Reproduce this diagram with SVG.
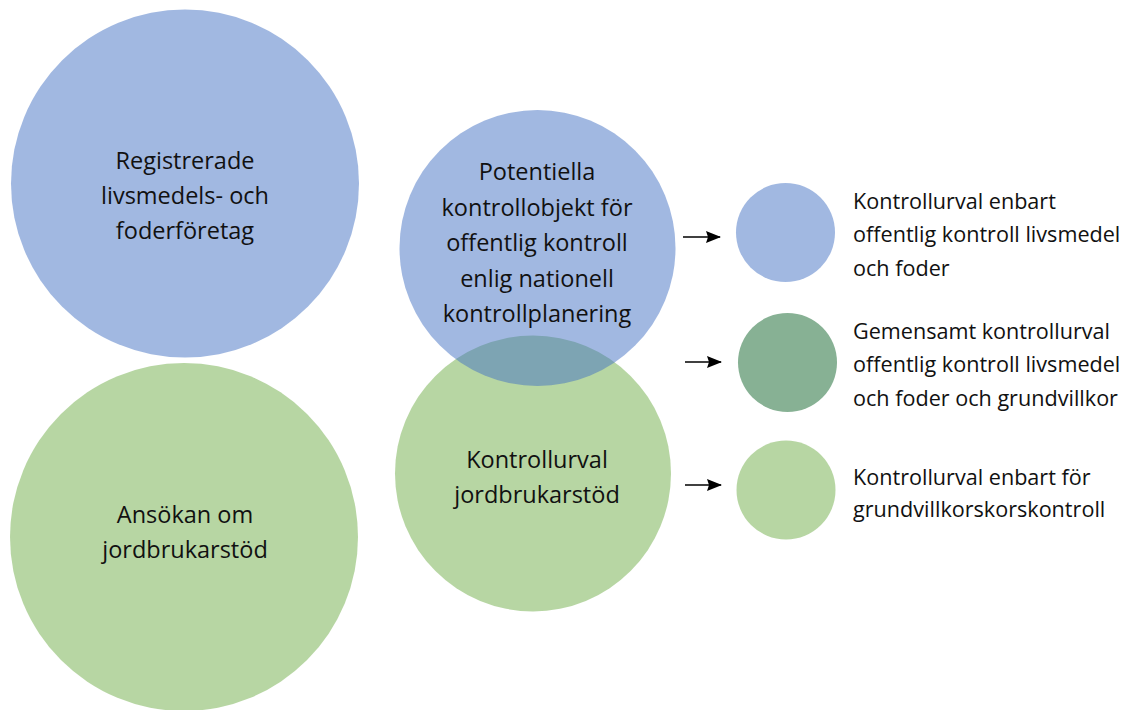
<svg xmlns="http://www.w3.org/2000/svg" width="1128" height="710" viewBox="0 0 1128 710">
  <style>
    .big { font-family: "Open Sans", "Liberation Sans", sans-serif; font-size: 23.5px; fill: #111; text-anchor: middle; }
    .small { font-family: "Open Sans", "Liberation Sans", sans-serif; font-size: 21.6px; fill: #111; }
    .blue { fill: #4472C4; fill-opacity: 0.5; }
    .green { fill: #70AD47; fill-opacity: 0.5; }
    .dgreen { fill: #87B194; }
    .arrow { stroke: #000; stroke-width: 1.6; fill: none; marker-end: url(#ah); }
  </style>
  <defs>
    <marker id="ah" markerWidth="15" markerHeight="12" refX="14" refY="6" orient="auto" markerUnits="userSpaceOnUse" viewBox="0 0 15 12">
      <path d="M0,0 L15,6 L0,12 L2,6 Z" fill="#000"/>
    </marker>
  </defs>
  <rect width="1128" height="710" fill="#fff"/>

  <g id="node-registrerade">
    <circle class="blue" cx="185" cy="183.5" r="174"/>
    <text class="big" x="185" y="169">Registrerade</text>
    <text class="big" x="185" y="204">livsmedels- och</text>
    <text class="big" x="185" y="239">foderföretag</text>
  </g>

  <g id="node-ansokan">
    <circle class="green" cx="184" cy="537" r="174"/>
    <text class="big" x="185" y="523">Ansökan om</text>
    <text class="big" x="185" y="558">jordbrukarstöd</text>
  </g>

  <g id="node-kontrollurval-jordbruk">
    <circle class="green" cx="533" cy="473.5" r="138"/>
  </g>

  <g id="node-potentiella">
    <circle class="blue" cx="537.5" cy="248" r="138"/>
    <text class="big" x="537" y="180">Potentiella</text>
    <text class="big" x="537" y="215.5">kontrollobjekt för</text>
    <text class="big" x="537" y="251">offentlig kontroll</text>
    <text class="big" x="537" y="286.5">enlig nationell</text>
    <text class="big" x="537" y="322">kontrollplanering</text>
  </g>

  <g id="label-kontrollurval-jordbruk">
    <text class="big" x="537" y="468">Kontrollurval</text>
    <text class="big" x="537" y="503">jordbrukarstöd</text>
  </g>

  <g id="connectors">
    <line class="arrow" x1="683" y1="237" x2="720" y2="237"/>
    <line class="arrow" x1="685" y1="362" x2="721" y2="362"/>
    <line class="arrow" x1="685" y1="485" x2="721" y2="485"/>
  </g>

  <g id="legend-blue">
    <circle class="blue" cx="785.5" cy="232.5" r="49.5"/>
    <text class="small" x="853" y="209">Kontrollurval enbart</text>
    <text class="small" x="853" y="242">offentlig kontroll livsmedel</text>
    <text class="small" x="853" y="276">och foder</text>
  </g>

  <g id="legend-darkgreen">
    <circle class="dgreen" cx="787.5" cy="362.5" r="49.5"/>
    <text class="small" x="853" y="339">Gemensamt kontrollurval</text>
    <text class="small" x="853" y="372">offentlig kontroll livsmedel</text>
    <text class="small" x="853" y="406">och foder och grundvillkor</text>
  </g>

  <g id="legend-lightgreen">
    <circle class="green" cx="786" cy="490" r="49.5"/>
    <text class="small" x="853" y="485">Kontrollurval enbart för</text>
    <text class="small" x="853" y="517">grundvillkorskorskontroll</text>
  </g>
</svg>
